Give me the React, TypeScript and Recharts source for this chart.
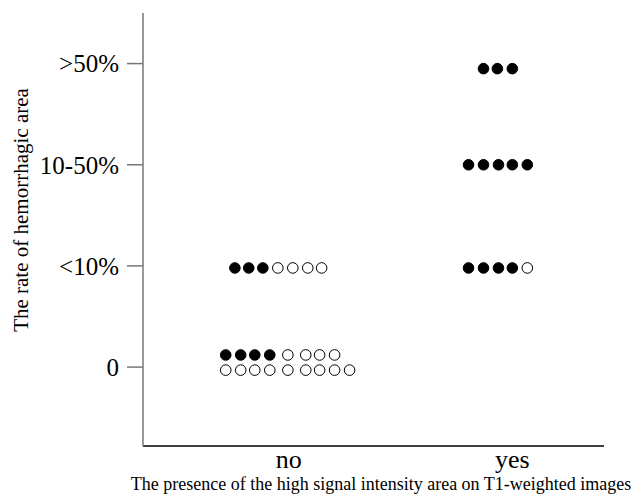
import React from 'react';
import { ScatterChart, Scatter, XAxis, YAxis, Label } from 'recharts';

// x: 1 = "no", 2 = "yes"; y: 0 = "0", 1 = "<10%", 2 = "10-50%", 3 = ">50%"
const groupLabels = ['', 'no', 'yes'];
const rateLabels = ['0', '<10%', '10-50%', '>50%'];

// filled dots
const noLt10Filled = [0.759, 0.821, 0.884];
const noZeroFilled = [0.718, 0.785, 0.848, 0.915];
const yesGt50Filled = [1.871, 1.933, 2.0];
const yes10to50Filled = [1.804, 1.871, 1.938, 2.0, 2.067];
const yesLt10Filled = [1.804, 1.871, 1.938, 2.0];

// open dots
const noLt10Open = [0.951, 1.018, 1.085, 1.147];
const noZeroUpperOpen = [0.996, 1.076, 1.138, 1.205];
const noZeroLowerOpen = [0.718, 0.785, 0.848, 0.915, 0.996, 1.076, 1.138, 1.205, 1.272];
const yesLt10Open = [2.067];

const toPoints = (xs: number[], y: number) => xs.map(x => ({ x, y }));

const filled = [
  ...toPoints(noLt10Filled, 0.98),
  ...toPoints(noZeroFilled, 0.12),
  ...toPoints(yesGt50Filled, 2.95),
  ...toPoints(yes10to50Filled, 2.0),
  ...toPoints(yesLt10Filled, 0.98),
];

const open = [
  ...toPoints(noLt10Open, 0.98),
  ...toPoints(noZeroUpperOpen, 0.12),
  ...toPoints(noZeroLowerOpen, -0.03),
  ...toPoints(yesLt10Open, 0.98),
];

const serif = '"Liberation Serif", "Times New Roman", serif';

const Dot = (props: any) => {
  const { cx, cy, fill } = props;
  return <circle cx={cx} cy={cy} r={5.3} fill={fill} stroke="#000" strokeWidth={1} />;
};

const YTitle = () => (
  <text
    x={21}
    y={210}
    transform="rotate(-90 21 210)"
    textAnchor="middle"
    dominantBaseline="central"
    fontFamily={serif}
    fontSize={21}
    style={{ fill: '#000' }}
  >
    The rate of hemorrhagic area
  </text>
);

const XTitle = () => (
  <text x={381} y={490} textAnchor="middle" fontFamily={serif} fontSize={18} style={{ fill: '#000' }}>
    The presence of the high signal intensity area on T1-weighted images
  </text>
);

export default function App() {
  return (
    <div style={{ position: 'absolute', left: 0, top: 0, background: '#fff' }}>
      <ScatterChart width={634} height={497} margin={{ top: 13, right: 30, bottom: 0, left: 0 }}>
        <XAxis
          type="number"
          dataKey="x"
          domain={[0.348, 2.41]}
          ticks={[1, 2]}
          tickFormatter={(v: number) => groupLabels[v]}
          axisLine={{ stroke: '#000', strokeWidth: 1.5 }}
          tickLine={false}
          tickSize={0}
          tickMargin={4}
          height={51}
          tick={{ fontFamily: serif, fontSize: 26, fill: '#000' }}
          allowDataOverflow
        >
          <Label content={<XTitle />} />
        </XAxis>
        <YAxis
          type="number"
          dataKey="y"
          domain={[-0.78, 3.5]}
          ticks={[0, 1, 2, 3]}
          tickFormatter={(v: number) => rateLabels[v]}
          width={143}
          axisLine={{ stroke: '#777', strokeWidth: 1.5 }}
          tickLine={{ stroke: '#777', strokeWidth: 1.5 }}
          tickSize={16}
          tickMargin={8}
          tick={{ fontFamily: serif, fontSize: 25, fill: '#000' }}
          allowDataOverflow
        >
          <Label content={<YTitle />} />
        </YAxis>
        <Scatter data={filled} fill="#000" shape={<Dot />} isAnimationActive={false} />
        <Scatter data={open} fill="#fff" shape={<Dot />} isAnimationActive={false} />
      </ScatterChart>
    </div>
  );
}
